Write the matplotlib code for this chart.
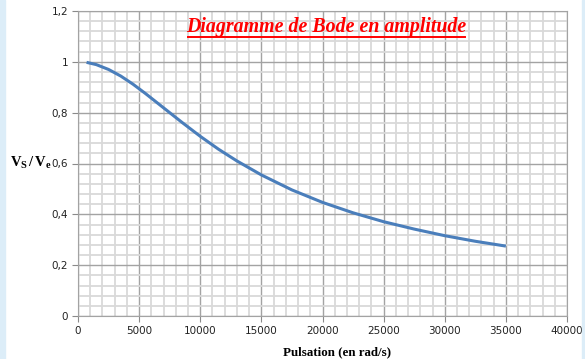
import matplotlib
matplotlib.use("Agg")
import matplotlib.pyplot as plt
from matplotlib.ticker import MultipleLocator, FuncFormatter
from matplotlib.patches import Rectangle
from matplotlib.lines import Line2D

pulsation = [700, 1500, 2500, 3500, 4500, 5500, 6500, 7500, 8500, 10000,
             11500, 13000, 15000, 17500, 20000, 22500, 25000, 27500,
             30000, 32500, 35000]
amplitude = [0.998, 0.989, 0.970, 0.944, 0.912, 0.876, 0.838, 0.800, 0.762,
             0.707, 0.656, 0.610, 0.555, 0.496, 0.447, 0.406, 0.371, 0.342,
             0.316, 0.294, 0.275]
x_ticks = [0, 5000, 10000, 15000, 20000, 25000, 30000, 35000, 40000]
y_ticks = [0, 0.2, 0.4, 0.6, 0.8, 1.0, 1.2]

plt.rcParams['mathtext.fontset'] = 'custom'
plt.rcParams['mathtext.rm'] = 'Liberation Serif:bold'
plt.rcParams['mathtext.it'] = 'Liberation Serif:bold'
plt.rcParams['mathtext.bf'] = 'Liberation Serif:bold'

fig = plt.figure(figsize=(5.85, 3.59), dpi=100)
fig.patches.append(Rectangle((0, 0), 5/585, 1, transform=fig.transFigure,
                             color='#dcedf8', zorder=0))
fig.patches.append(Rectangle((582/585, 0), 3/585, 1, transform=fig.transFigure,
                             color='#dcedf8', zorder=0))

ax = fig.add_axes([78/585, 1-316/359, 489/585, 305/359])
ax.set_xlim(0, 40000)
ax.set_ylim(0, 1.2)

ax.xaxis.set_major_locator(MultipleLocator(5000))
ax.xaxis.set_minor_locator(MultipleLocator(1000))
ax.yaxis.set_major_locator(MultipleLocator(0.2))
ax.yaxis.set_minor_locator(MultipleLocator(0.04))
ax.grid(which='minor', color='#d9d9d9', linewidth=1.3)
ax.grid(which='major', color='#a3a3a3', linewidth=1.0)
ax.set_axisbelow(True)

for s in ax.spines.values():
    s.set_color('#a3a3a3')

ax.tick_params(which='minor', length=0)
ax.tick_params(which='major', length=4, color='#8a8a8a', labelsize=7.5,
               labelcolor='#222222', pad=3, direction='out')
ax.set_xticks(x_ticks)
ax.set_yticks(y_ticks)
ax.xaxis.set_major_formatter(FuncFormatter(lambda v, p: f"{int(v)}"))
ax.yaxis.set_major_formatter(FuncFormatter(
    lambda v, p: (f"{v:g}").replace('.', ',')))

ax.plot(pulsation, amplitude, color='#4a7ebb', linewidth=2.2,
        solid_capstyle='butt', solid_joinstyle='round', zorder=3)

fig.text(337/585, 1-352/359, "Pulsation (en rad/s)", ha='center', va='center',
         fontsize=9.4, fontweight='bold', family='Liberation Serif')
fig.text(10/585, 1-163/359, r"$\mathrm{V_S\,/\,V_e}$", ha='left', va='center',
         fontsize=10.5, family='Liberation Serif')

fig.text(326.5/585, 1-27/359, "Diagramme de Bode en amplitude",
         ha='center', va='center', fontsize=14.3, fontweight='bold',
         fontstyle='italic', family='Liberation Serif', color='#ff0000', zorder=5)
fig.lines.append(Line2D([188/585, 465/585], [1-36.5/359, 1-36.5/359],
                        transform=fig.transFigure, color='#ff0000', linewidth=1.4))

fig.savefig("out.png", dpi=100)
